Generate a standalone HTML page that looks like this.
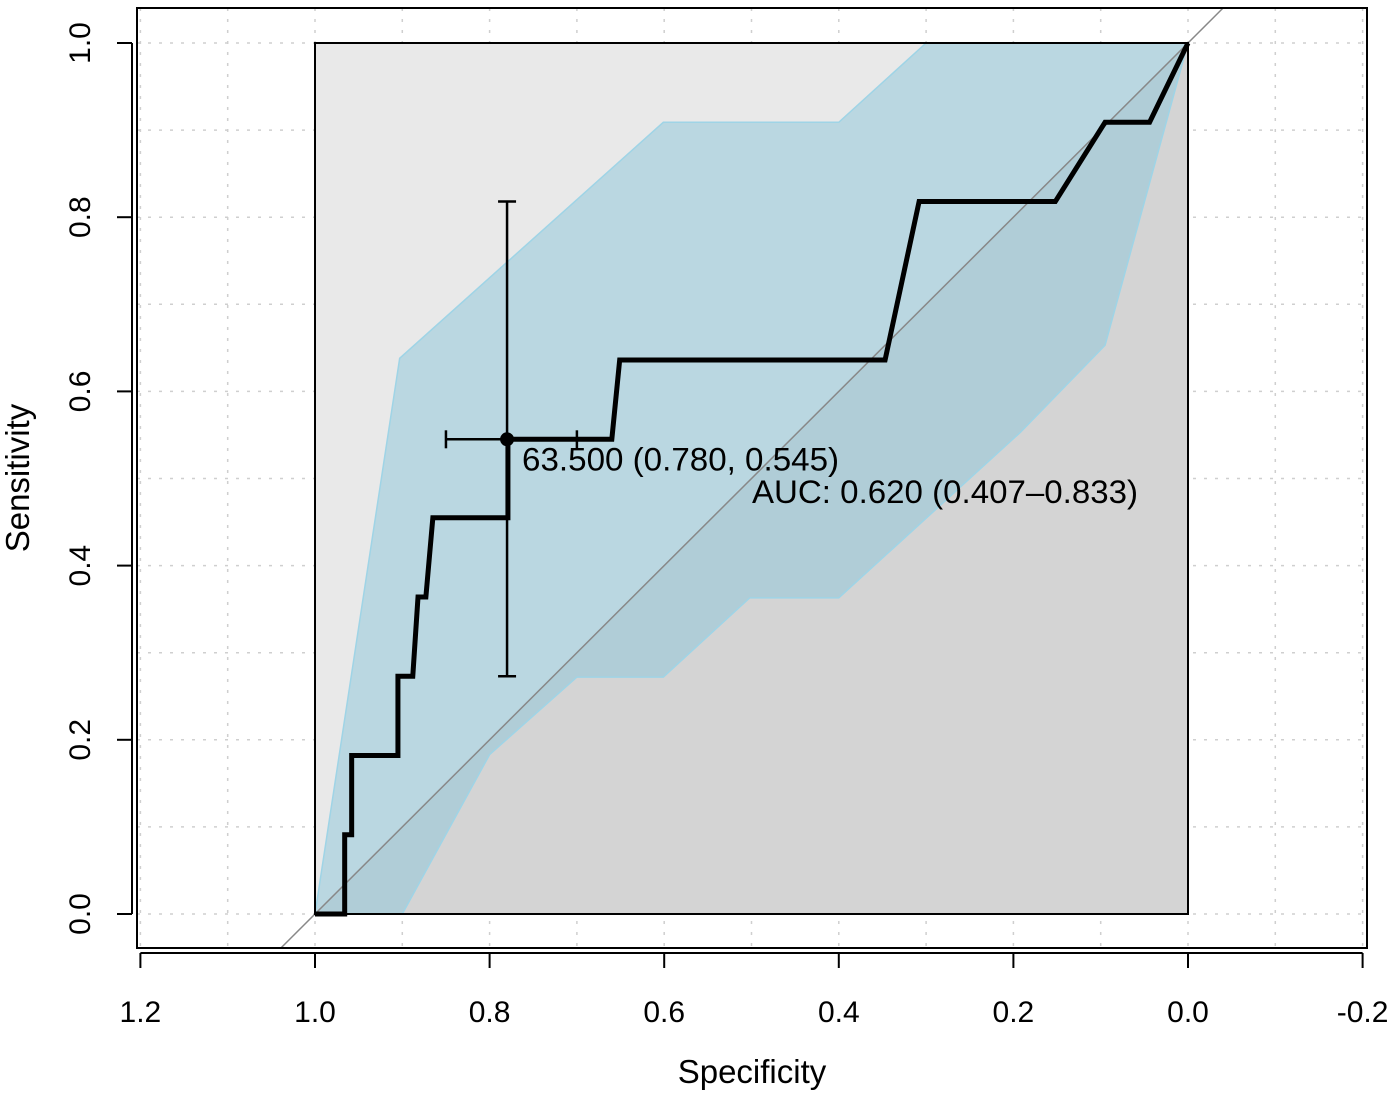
<!DOCTYPE html>
<html><head><meta charset="utf-8"><style>
html,body{margin:0;padding:0;background:#fff;}
svg{display:block;font-family:"Liberation Sans",Arial,sans-serif;}
</style></head><body>
<svg id="chart" width="1395" height="1096" viewBox="0 0 1395 1096" xmlns="http://www.w3.org/2000/svg">
<g id="g"></g>
</svg>
<script>
const rocSpec=[1.0,0.966,0.966,0.958,0.958,0.905,0.905,0.888,0.882,0.873,0.865,0.779,0.779,0.66,0.651,0.347,0.308,0.152,0.095,0.044,0.0];
const rocSens=[0,0,0.091,0.091,0.182,0.182,0.273,0.273,0.364,0.364,0.455,0.455,0.545,0.545,0.636,0.636,0.818,0.818,0.909,0.909,1.0];
const ciUpperSpec=[1.0,0.903,0.601,0.4,0.3,0.0];
const ciUpperSens=[0.0,0.638,0.909,0.909,1.0,1.0];
const ciLowerSpec=[0.0,0.095,0.192,0.4,0.502,0.601,0.7,0.8,0.9];
const ciLowerSens=[1.0,0.653,0.553,0.363,0.363,0.272,0.272,0.183,0.0];
const xTicks=[1.2,1.0,0.8,0.6,0.4,0.2,0.0,-0.2];
const xTickLabels=["1.2","1.0","0.8","0.6","0.4","0.2","0.0","-0.2"];
const yTicks=[0,0.2,0.4,0.6,0.8,1.0];
const yTickLabels=["0.0","0.2","0.4","0.6","0.8","1.0"];
const bestSpec=0.78, bestSens=0.545;
const ciSpecLo=0.85, ciSpecHi=0.70, ciSensLo=0.273, ciSensHi=0.818;
const bestLabel="63.500 (0.780, 0.545)";
const aucLabel="AUC: 0.620 (0.407\u20130.833)";

const X=s=>315+(1-s)*873;
const Y=v=>914-v*871;
const NS="http://www.w3.org/2000/svg";
const g=document.getElementById('g');
function el(tag,attrs,parent){const e=document.createElementNS(NS,tag);for(const k in attrs)e.setAttribute(k,attrs[k]);(parent||g).appendChild(e);return e;}
let e;

// grid (under background)
for(let i=0;i<=10;i++){const v=i/10;
e=el('line',{x1:137,x2:1367,y1:Y(v),y2:Y(v),stroke:'#cfcfcf','stroke-width':1.5,'stroke-dasharray':'3 8'});

}
[1.2,1.1,1.0,0.9,0.8,0.7,0.6,0.5,0.4,0.3,0.2,0.1,0.0,-0.1,-0.2].forEach(s=>{
e=el('line',{x1:X(s),x2:X(s),y1:8,y2:948,stroke:'#cfcfcf','stroke-width':1.5,'stroke-dasharray':'3 8'});

});

// plot background triangles
e=el('polygon',{points:`${X(1)},${Y(0)} ${X(1)},${Y(1)} ${X(0)},${Y(1)}`,fill:'#e9e9e9'});


e=el('polygon',{points:`${X(1)},${Y(0)} ${X(0)},${Y(0)} ${X(0)},${Y(1)}`,fill:'#d4d4d4'});



// CI band
let pts=ciUpperSpec.map((s,i)=>X(s)+','+Y(ciUpperSens[i])).concat(ciLowerSpec.map((s,i)=>X(s)+','+Y(ciLowerSens[i])));
e=el('polygon',{points:pts.join(' '),fill:'rgba(140,198,218,0.5)',stroke:'#9fd4e6','stroke-width':1.5});



// diagonal
e=el('line',{x1:X(1.0+(948-914)/871),y1:948,x2:X(0-(43-8)/871),y2:8,stroke:'#888','stroke-width':1.5});



// box
e=el('rect',{x:X(1),y:Y(1),width:X(0)-X(1),height:Y(0)-Y(1),fill:'none',stroke:'#000','stroke-width':2});



// ROC line
e=el('polyline',{points:rocSpec.map((s,i)=>X(s)+','+Y(rocSens[i])).join(' '),fill:'none',stroke:'#000','stroke-width':5,'stroke-linejoin':'miter'});



// error bars
const eb=el('g',{stroke:'#000','stroke-width':2.5});


el('line',{x1:X(bestSpec),x2:X(bestSpec),y1:Y(ciSensLo),y2:Y(ciSensHi)},eb);
el('line',{x1:X(bestSpec)-9,x2:X(bestSpec)+9,y1:Y(ciSensLo),y2:Y(ciSensLo)},eb);
el('line',{x1:X(bestSpec)-9,x2:X(bestSpec)+9,y1:Y(ciSensHi),y2:Y(ciSensHi)},eb);
el('line',{x1:X(ciSpecLo),x2:X(ciSpecHi),y1:Y(bestSens),y2:Y(bestSens)},eb);
el('line',{x1:X(ciSpecLo),x2:X(ciSpecLo),y1:Y(bestSens)-9,y2:Y(bestSens)+9},eb);
el('line',{x1:X(ciSpecHi),x2:X(ciSpecHi),y1:Y(bestSens)-9,y2:Y(bestSens)+9},eb);
e=el('circle',{cx:X(bestSpec),cy:Y(bestSens),r:7,fill:'#000'});


e=el('text',{x:X(bestSpec)+15,y:Y(bestSens)+31,'font-size':32,fill:'#000',textLength:317,lengthAdjust:'spacingAndGlyphs'});e.textContent=bestLabel;


e=el('text',{x:752,y:503,'font-size':32,fill:'#000',textLength:386,lengthAdjust:'spacingAndGlyphs'});e.textContent=aucLabel;



// plot frame
e=el('rect',{x:137,y:8,width:1230,height:940,fill:'none',stroke:'#000','stroke-width':2});



// x axis
e=el('line',{x1:X(1.2),x2:X(-0.2),y1:953,y2:953,stroke:'#000','stroke-width':2});


xTicks.forEach((s,i)=>{
el('line',{x1:X(s),x2:X(s),y1:953,y2:968,stroke:'#000','stroke-width':2});
e=el('text',{x:X(s),y:1022,'font-size':30,'text-anchor':'middle',fill:'#000'});e.textContent=xTickLabels[i];

});
e=el('text',{x:752,y:1083,'font-size':33,'text-anchor':'middle',fill:'#000'});e.textContent='Specificity';



// y axis
e=el('line',{x1:132,x2:132,y1:Y(0),y2:Y(1),stroke:'#000','stroke-width':2});


yTicks.forEach((v,i)=>{
el('line',{x1:117,x2:132,y1:Y(v),y2:Y(v),stroke:'#000','stroke-width':2});
e=el('text',{x:0,y:0,'font-size':30,'text-anchor':'middle',fill:'#000',transform:`translate(90,${Y(v)}) rotate(-90)`});e.textContent=yTickLabels[i];

});
e=el('text',{x:0,y:0,'font-size':33,'text-anchor':'middle',fill:'#000',transform:`translate(29,478) rotate(-90)`});e.textContent='Sensitivity';


</script>
</body></html>
